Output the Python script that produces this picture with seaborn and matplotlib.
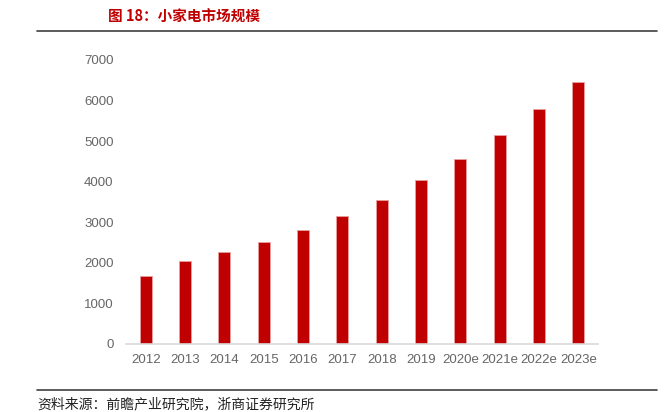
import numpy as np
import pandas as pd
import matplotlib
matplotlib.use('Agg')
import matplotlib.pyplot as plt
import seaborn as sns
from matplotlib.lines import Line2D

# DADOS DO GRAFICO
anos = ['2012', '2013', '2014', '2015', '2016', '2017', '2018', '2019',
        '2020e', '2021e', '2022e', '2023e']
mercado = [1680, 2040, 2260, 2510, 2810, 3160, 3560, 4030, 4550, 5140, 5780, 6470]
titulo = '图 18：小家电市场规模'
fonte = '资料来源：前瞻产业研究院，浙商证券研究所'

df = pd.DataFrame({'ano': anos, 'valor': mercado})

sns.set_theme(style='white')
plt.rcParams['font.family'] = ['Liberation Sans', 'DejaVu Sans']

W, H = 669, 412
fig = plt.figure(figsize=(W / 100, H / 100), dpi=100)
ax = fig.add_axes([126 / W, (H - 344) / H, 472 / W, (344 - 60) / H])

sns.barplot(data=df, x='ano', y='valor', color='#c00000', width=0.31,
            saturation=1, edgecolor='#e8a0a0', linewidth=0.6, ax=ax)

ax.set_ylim(0, 7000)
ax.set_yticks(np.arange(0, 7001, 1000))
ax.set_xlabel('')
ax.set_ylabel('')
for lado in ['top', 'right', 'left']:
    ax.spines[lado].set_visible(False)
ax.spines['bottom'].set_color('#d9d9d9')
ax.spines['bottom'].set_linewidth(1.2)
ax.tick_params(axis='both', length=0, labelsize=9.5, labelcolor='#666666')
ax.tick_params(axis='y', pad=9)
ax.tick_params(axis='x', pad=7)

# TITULO E LINHAS
cjk = ['Noto Sans CJK SC', 'DejaVu Sans']
fig.text(108 / W, 1 - 17 / H, titulo, color='#c00000', fontsize=10.5,
         fontweight='bold', family=cjk, va='center', ha='left')
fig.add_artist(Line2D([37 / W, 657 / W], [1 - 31 / H, 1 - 31 / H],
                      color='#404040', linewidth=1.2))
fig.add_artist(Line2D([37 / W, 657 / W], [1 - 390 / H, 1 - 390 / H],
                      color='#404040', linewidth=1.2))
fig.text(37 / W, 1 - 404 / H, fonte, color='#222222', fontsize=10,
         family=cjk, va='center', ha='left')

fig.savefig('out.png', dpi=100)
